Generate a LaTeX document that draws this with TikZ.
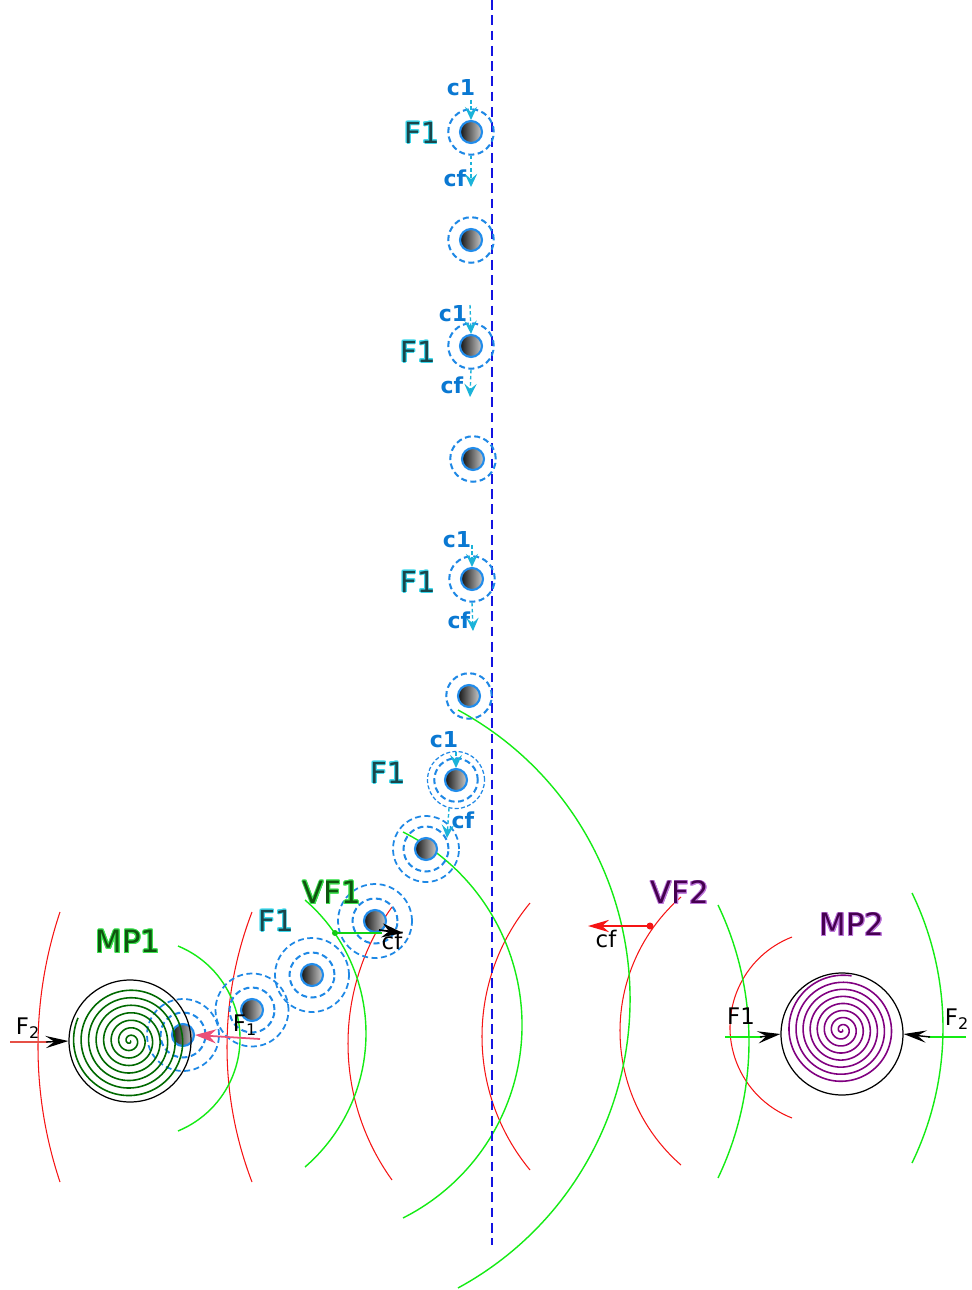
\documentclass[tikz,border=0pt]{standalone}
\usepackage{fontspec}
\setmainfont{DejaVu Sans}
\usepackage[copies]{contour}
\contourlength{0.5pt}
\usetikzlibrary{arrows.meta}

\definecolor{ballblue}{RGB}{33,140,235}
\definecolor{ringblue}{RGB}{30,136,229}
\definecolor{axisblue}{RGB}{20,20,225}
\definecolor{cyanarrow}{RGB}{27,179,217}
\definecolor{ctext}{RGB}{10,120,210}
\definecolor{arcred}{RGB}{245,20,20}
\definecolor{arcgreen}{RGB}{20,235,20}
\definecolor{darkspiral}{RGB}{0,105,0}
\definecolor{purplespiral}{RGB}{128,0,128}
\definecolor{pinkarrow}{RGB}{235,80,120}
\definecolor{salmon}{RGB}{230,80,70}
\definecolor{f1core}{RGB}{25,70,75}
\definecolor{f1halo}{RGB}{60,215,235}
\definecolor{gcore}{RGB}{15,85,15}
\definecolor{ghalo}{RGB}{60,225,80}
\definecolor{pcore}{RGB}{70,0,80}
\definecolor{phalo}{RGB}{190,120,220}

% circular arc bulging sideways: style, x of both ends, top y, bottom y, x at the widest point
\newcommand{\bulgearc}[5]{%
  \pgfmathsetmacro\bhh{(#4-#3)/200}%
  \pgfmathsetmacro\bdd{(#5-#2)/100}%
  \pgfmathsetmacro\brr{100*(\bhh*\bhh+\bdd*\bdd)/(2*abs(\bdd))}%
  \pgfmathsetmacro\bth{asin(100*\bhh/\brr)}%
  \pgfmathsetmacro\bsa{ifthenelse(\bdd<0,180+\bth,-\bth)}%
  \pgfmathsetmacro\bea{ifthenelse(\bdd<0,180-\bth,\bth)}%
  \draw[#1] (#2,#3) arc[start angle=\bsa, end angle=\bea, radius=\brr];
}

\begin{document}
\begin{tikzpicture}[x=0.02cm,y=-0.02cm,
  ball/.style={circle,minimum size=0.44cm,inner sep=0pt,draw=ballblue,line width=1.2pt,
    left color=black!92,right color=white!80!black},
  ring/.style={circle,inner sep=0pt,draw=ringblue,line width=1.15pt,dash pattern=on 3.4pt off 2pt},
  ringthin/.style={ring,line width=0.7pt,dash pattern=on 2.3pt off 1.3pt},
  carrow/.style={draw=cyanarrow,line width=0.8pt,dash pattern=on 2pt off 1.5pt,
    -{Stealth[length=7.5pt,width=7pt,inset=3pt,color=cyanarrow]}},
  clabel/.style={text=ctext,font=\bfseries\fontsize{12.5}{14}\selectfont,inner sep=0pt},
  flabel/.style={text=f1core,font=\fontsize{16.5}{18}\selectfont,inner sep=0pt},
  glabel/.style={text=gcore,font=\fontsize{17.5}{19}\selectfont,inner sep=0pt},
  plabel/.style={text=pcore,font=\fontsize{17.5}{19}\selectfont,inner sep=0pt},
  blabel/.style={text=black,font=\fontsize{13}{15}\selectfont,inner sep=0pt},
  redarc/.style={draw=arcred,line width=0.6pt},
  greenarc/.style={draw=arcgreen,line width=0.8pt},
  mpcircle/.style={circle,draw=black,line width=0.7pt,minimum size=2.44cm,inner sep=0pt},
  blackhead/.style={-{Stealth[length=13pt,width=7pt,inset=5pt,color=black]}}
]
\useasboundingbox (0,0) rectangle (971,1290);

% field arcs
\bulgearc{redarc}{60}{912}{1182}{38}
\bulgearc{redarc}{252}{912}{1182}{227}
\bulgearc{redarc}{392}{907}{1180}{348}
\bulgearc{redarc}{530}{903}{1170}{482}
\bulgearc{redarc}{681}{897}{1165}{620}
\bulgearc{redarc}{792}{937}{1118}{730}
\bulgearc{greenarc}{178}{946}{1131}{240}
\bulgearc{greenarc}{305}{900}{1167}{366}
\bulgearc{greenarc}{403}{832}{1218}{522}
\bulgearc{greenarc}{458}{710}{1288}{630}
\bulgearc{greenarc}{718}{905}{1178}{749}
\bulgearc{greenarc}{912}{893}{1163}{943}

% symmetry axis
\coordinate (axtop) at (492,0);
\coordinate (axbot) at (492,1245);
\draw[axisblue,line width=1.4pt,dash pattern=on 5.5pt off 3.2pt] (axtop) -- (axbot);

% vertical column of particles
\foreach \n/\px/\py in {1/471/132,2/471/240,3/471/346,4/473/459,5/472/579,6/469/696}{
  \node[ring,minimum size=0.91cm] (r\n) at (\px,\py) {};
  \node[ball] (b\n) at (\px,\py) {};
}

% lower chain of particles
\node[ringthin,minimum size=1.14cm] (r7o) at (456,780) {};
\node[ring,minimum size=0.87cm] (r7) at (456,780) {};
\node[ball] (b7) at (456,780) {};
\foreach \n/\px/\py/\os in {8/426/849/1.32,9/375/921/1.48,10/312/975/1.48,11/252/1010/1.46,12/183/1035/1.44}{
  \node[ring,line width=1pt,minimum size=\os cm] (r\n o) at (\px,\py) {};
  \node[ring,minimum size=0.9cm] (r\n) at (\px,\py) {};
  \node[ball] (b\n) at (\px,\py) {};
}

% F1 labels
\node[flabel] (f1a) at (422,133) {\contour{f1halo}{F1}};
\node[flabel] (f1b) at (418,352) {\contour{f1halo}{F1}};
\node[flabel] (f1c) at (418,582) {\contour{f1halo}{F1}};
\node[flabel] (f1d) at (388,773) {\contour{f1halo}{F1}};
\node[flabel] (f1e) at (276,921) {\contour{f1halo}{F1}};

% c1 / cf labels and their arrows
\node[clabel] (c1a) at (461,88) {c1};
\node[clabel] (c1b) at (453,314) {c1};
\node[clabel] (c1c) at (457,540) {c1};
\node[clabel] (c1d) at (444,740) {c1};
\node[clabel] (cfa) at (455,178) {cf};
\node[clabel] (cfb) at (452,385) {cf};
\node[clabel] (cfc) at (459,620) {cf};
\node[clabel] (cfd) at (463,820) {cf};

\coordinate (c1sa) at (471,100);
\coordinate (c1sb) at (470,305);
\coordinate (c1sc) at (472,545);
\coordinate (c1sd) at (456,752);
\draw[carrow] (c1sa) -- (b1.north);
\draw[carrow] (c1sb) -- (b3.north);
\draw[carrow] (c1sc) -- (b5.north);
\draw[carrow] (c1sd) -- (b7.north);

\coordinate (cfea) at (471,187);
\coordinate (cfeb) at (470,397);
\coordinate (cfec) at (473,631);
\coordinate (cfed) at (447,838);
\draw[carrow] (r1.south) -- (cfea);
\draw[carrow] (r3.south) -- (cfeb);
\draw[carrow] (r5.south) -- (cfec);
\draw[carrow] (449,808) -- (cfed);

% MP1 with its spiral
\node[mpcircle] (mp1) at (130,1041) {};
\draw[darkspiral,line width=0.9pt] plot[domain=0:2724,samples=800,smooth]
  ({130+0.02089*\x*cos(\x)},{1041+0.02089*\x*sin(\x)});
\node[glabel] (mp1lab) at (128,942) {\contour{ghalo}{MP1}};

% MP2 with its spiral
\node[mpcircle] (mp2) at (842,1034) {};
\draw[purplespiral,line width=0.9pt] plot[domain=0:2800,samples=800,smooth]
  ({842+0.01964*\x*cos(\x)},{1030+0.01964*\x*sin(\x)});
\node[plabel] (mp2lab) at (852,925) {\contour{phalo}{MP2}};

% forces on MP1
\coordinate (f2start) at (10,1042);
\draw[salmon,line width=0.8pt] (f2start) -- (48,1042);
\draw[blackhead,line width=0.8pt] (46,1042) -- (mp1.west);
\node[blabel] (f2l) at (28,1028) {F\textsubscript{2}};

\coordinate (f1start) at (260,1039);
\draw[pinkarrow,line width=1pt,-{Stealth[length=12pt,width=8pt,inset=4pt,color=pinkarrow]}]
  (f1start) -- (b12.east);
\node[blabel] (f1sub) at (245,1025) {F\textsubscript{1}};

% forces on MP2
\coordinate (f1mp2) at (725,1037);
\coordinate (f2mp2) at (966,1037);
\draw[arcgreen,line width=0.8pt] (f1mp2) -- (762,1037);
\draw[blackhead,line width=0.8pt] (760,1037) -- (mp2.west);
\draw[arcgreen,line width=0.8pt] (f2mp2) -- (928,1037);
\draw[blackhead,line width=0.8pt] (930,1037) -- (mp2.east);
\node[blabel] (f1r) at (741,1016) {F1};
\node[blabel] (f2r) at (957,1019) {F\textsubscript{2}};

% VF1 and its centrifugal push
\node[glabel] (vf1) at (332,893) {\contour{ghalo}{VF1}};
\coordinate (vf1dot) at (335,933);
\coordinate (vf1tip) at (403,933);
\fill[arcgreen!85!black] (vf1dot) circle[radius=3];
\draw[arcgreen!90!black,line width=1.2pt] (vf1dot) -- (382,933);
\draw[-{Stealth[length=12pt,width=8pt,inset=4pt,color=black]},line width=1pt] (379,930) -- (vf1tip);
\node[blabel] (cfvf1) at (392,941) {cf};

% VF2 and its centrifugal push
\node[plabel] (vf2) at (680,893) {\contour{phalo}{VF2}};
\coordinate (vf2dot) at (650,926);
\coordinate (vf2tip) at (588,926);
\fill[arcred] (vf2dot) circle[radius=3.5];
\draw[arcred,line width=0.9pt,-{Stealth[length=12pt,width=7pt,inset=4pt,color=arcred]}] (vf2dot) -- (vf2tip);
\node[blabel] (cfvf2) at (606,939) {cf};
\end{tikzpicture}
\end{document}
